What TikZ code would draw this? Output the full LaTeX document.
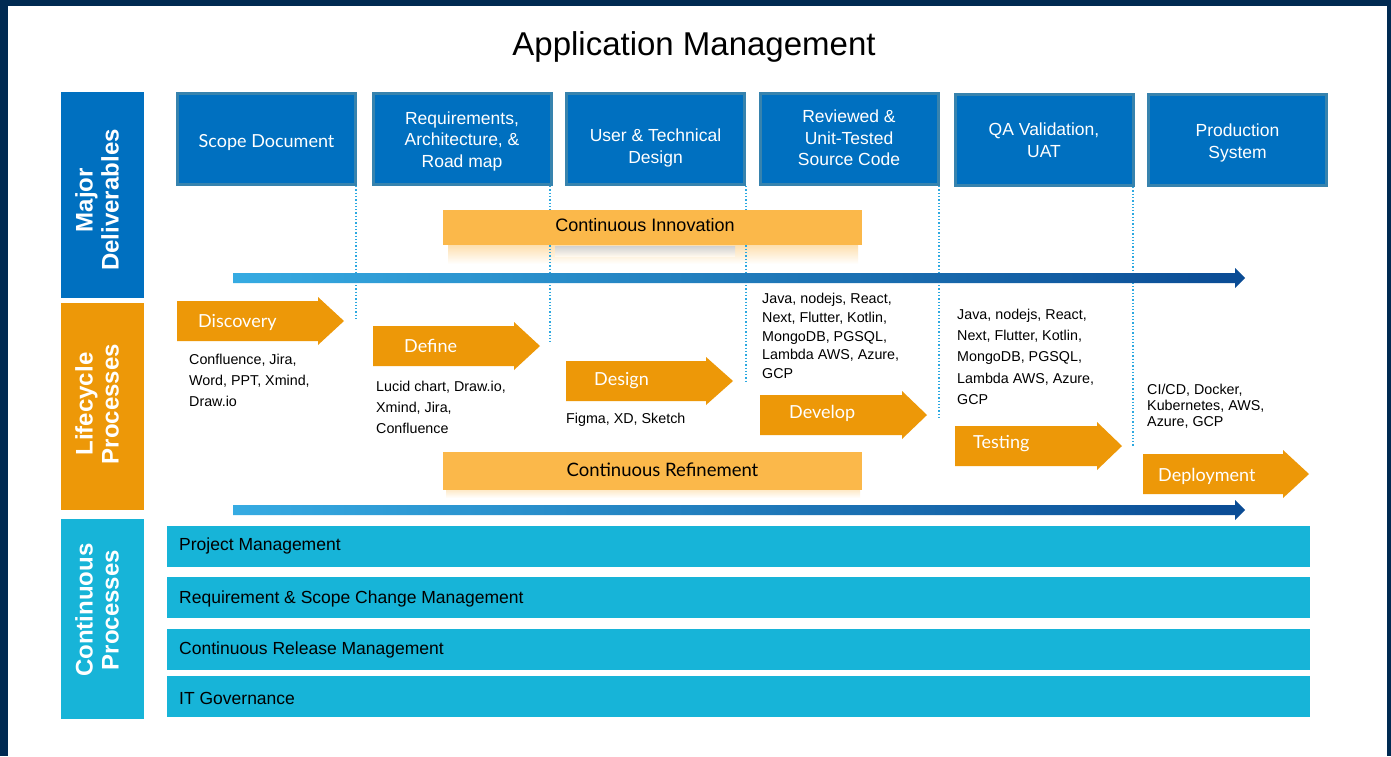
\documentclass[tikz,border=0pt]{standalone}
\usepackage{fontspec}
\setmainfont{Liberation Sans}
\newfontfamily\latofont{Lato}
\definecolor{navy}{HTML}{002A52}
\definecolor{dblue}{HTML}{0070C0}
\definecolor{dborder}{HTML}{3783AE}
\definecolor{orng}{HTML}{ED9808}
\definecolor{lorng}{HTML}{FBB84A}
\definecolor{cyanb}{HTML}{17B4D8}
\definecolor{gl}{HTML}{36ABE2}
\definecolor{gd}{HTML}{0A4B94}
\definecolor{dotc}{HTML}{2CA8E0}
\newcommand\fsz[2]{\fontsize{#1}{#2}\selectfont}
\tikzset{
  sidelabel/.style={rotate=90, text=white, align=center, font=\bfseries\fsz{24}{26}},
  dbox/.style={fill=dblue, draw=dborder, line width=3pt, text=white, align=center,
    minimum width=178pt, minimum height=91pt, inner sep=0pt, font=\fsz{17.5}{21.5}},
  dtext/.style={text=white, align=center, inner sep=0pt, font=\fsz{17.5}{21.5}},
  boxtext/.style={text=black, anchor=center, font=\fsz{18}{20}},
  arrowtext/.style={text=white, anchor=west, inner sep=0pt, font=\latofont\fsz{18}{20}},
  tooltext/.style={text=black, anchor=north west, align=left, inner sep=0pt},
  rowtext/.style={text=black, anchor=west, inner sep=0pt, font=\fsz{17.5}{20}},
  dotline/.style={draw=dotc, dotted, line width=1.3pt},
}
\begin{document}
\begin{tikzpicture}[x=1pt,y=-1pt]
\useasboundingbox (0,0) rectangle (1391,756);
% frame
\fill[navy] (0,0) rectangle (1391,756);
\fill[white] (8,6) rectangle (1387,756);
% title
\node[font=\fsz{33}{36}, text=black] (title) at (694,47) {Application Management};
% side labels
\fill[dblue] (61,92) rectangle (144,298);
\node[sidelabel] (lab1) at (97,200) {Major\\Deliverables};
\fill[orng] (61,303) rectangle (144,510);
\node[sidelabel] (lab2) at (97,404) {Lifecycle\\Processes};
\fill[cyanb] (61,519) rectangle (144,719);
\node[sidelabel] (lab3) at (97,610) {Continuous\\Processes};
% soft shadows of the two light bands
\shade[top color=lorng!45, bottom color=white] (448,245) rectangle (858,264);
\shade[top color=black!18, bottom color=lorng!10] (555,246) rectangle (735,256);
\shade[top color=lorng!30, bottom color=white] (446,490) rectangle (860,498);
% deliverable boxes
\node[dbox] (d1) at (266.5,139) {};
\node[dtext, font=\latofont\fsz{18}{21.5}] (d1t) at (266.5,143) {Scope Document};
\node[dbox] (d2) at (462,139) {};
\node[dtext] (d2t) at (462,141) {Requirements,\\Architecture, \&\\Road map};
\node[dbox] (d3) at (655.5,139) {};
\node[dtext] (d3t) at (655.5,148) {User \& Technical\\Design};
\node[dbox] (d4) at (849,139) {};
\node[dtext] (d4t) at (849,138) {Reviewed \&\\Unit-Tested\\Source Code};
\node[dbox] (d5) at (1044,140) {};
\node[dtext] (d5t) at (1044,140) {QA Validation,\\UAT};
\node[dbox] (d6) at (1237.5,140) {};
\node[dtext] (d6t) at (1237.5,143) {Production\\System};
% dotted drop lines
\coordinate (e1) at (356,321);
\coordinate (e2) at (550,343);
\coordinate (e3) at (746,383);
\coordinate (e4) at (939,420);
\coordinate (e5) at (1133,447);
\draw[dotline] (d1.south east -| e1) -- (e1);
\draw[dotline] (d2.south east -| e2) -- (e2);
\draw[dotline] (d3.south east -| e3) -- (e3);
\draw[dotline] (d4.south east -| e4) -- (e4);
\draw[dotline] (d5.south east -| e5) -- (e5);
% continuous innovation
\fill[lorng] (443,210) rectangle (862,245);
\node[boxtext] (ci) at (645,225) {Continuous Innovation};
% gradient arrows
\shade[left color=gl, right color=gd] (233,273) -- (1235,273) -- (1235,268) -- (1245,278) -- (1235,288) -- (1235,283) -- (233,283) -- cycle;
\shade[left color=gl, right color=gd] (233,505) -- (1235,505) -- (1235,500) -- (1245,510) -- (1235,520) -- (1235,515) -- (233,515) -- cycle;
% lifecycle arrows
\fill[orng] (177,301) -- (318,301) -- (318,297) -- (344,321) -- (318,345) -- (318,341) -- (177,341) -- cycle;
\node[arrowtext] (a1) at (198,322) {Discovery};
\fill[orng] (373,326) -- (514,326) -- (514,322) -- (540,346) -- (514,370) -- (514,366) -- (373,366) -- cycle;
\node[arrowtext] (a2) at (404,346) {Define};
\fill[orng] (566,361) -- (706,361) -- (706,357) -- (733,381) -- (706,405) -- (706,401) -- (566,401) -- cycle;
\node[arrowtext] (a3) at (594,381) {Design};
\fill[orng] (760,395) -- (902,395) -- (902,391) -- (927,415) -- (902,439) -- (902,435) -- (760,435) -- cycle;
\node[arrowtext] (a4) at (789,413) {Develop};
\fill[orng] (955,426) -- (1097,426) -- (1097,422) -- (1122,446) -- (1097,470) -- (1097,466) -- (955,466) -- cycle;
\node[arrowtext] (a5) at (973,444) {Testing};
\fill[orng] (1143,454) -- (1283,454) -- (1283,450) -- (1309,474) -- (1283,498) -- (1283,494) -- (1143,494) -- cycle;
\node[arrowtext] (a6) at (1158,476) {Deployment};
% tools
\node[tooltext, font=\fsz{14.3}{21}] (t1) at (189,354) {Confluence, Jira,\\Word, PPT, Xmind,\\Draw.io};
\node[tooltext, font=\fsz{14.3}{21}] (t2) at (376,381) {Lucid chart, Draw.io,\\Xmind, Jira,\\Confluence};
\node[tooltext, font=\fsz{14.3}{21}] (t3) at (566,413) {Figma, XD, Sketch};
\node[tooltext, font=\fsz{14.3}{18.8}] (t4) at (762,293) {Java, nodejs, React,\\Next, Flutter, Kotlin,\\MongoDB, PGSQL,\\Lambda AWS, Azure,\\GCP};
\node[tooltext, font=\fsz{14.3}{21.2}] (t5) at (957,309) {Java, nodejs, React,\\Next, Flutter, Kotlin,\\MongoDB, PGSQL,\\Lambda AWS, Azure,\\GCP};
\node[tooltext, font=\fsz{14.3}{16}] (t6) at (1147,384) {CI/CD, Docker,\\Kubernetes, AWS,\\Azure, GCP};
% continuous refinement
\fill[lorng] (443,452) rectangle (862,490);
\node[boxtext, font=\latofont\fsz{18.5}{20}] (cr) at (662.5,470) {Continuous Refinement};
% continuous process rows
\fill[cyanb] (167,526) rectangle (1310,567);
\node[rowtext] (r1) at (179,546) {Project Management};
\fill[cyanb] (167,577) rectangle (1310,618);
\node[rowtext] (r2) at (179,599) {Requirement \& Scope Change Management};
\fill[cyanb] (167,629) rectangle (1310,670);
\node[rowtext] (r3) at (179,650) {Continuous Release Management};
\fill[cyanb] (167,676) rectangle (1310,717);
\node[rowtext] (r4) at (179,698) {IT Governance};
\end{tikzpicture}
\end{document}
